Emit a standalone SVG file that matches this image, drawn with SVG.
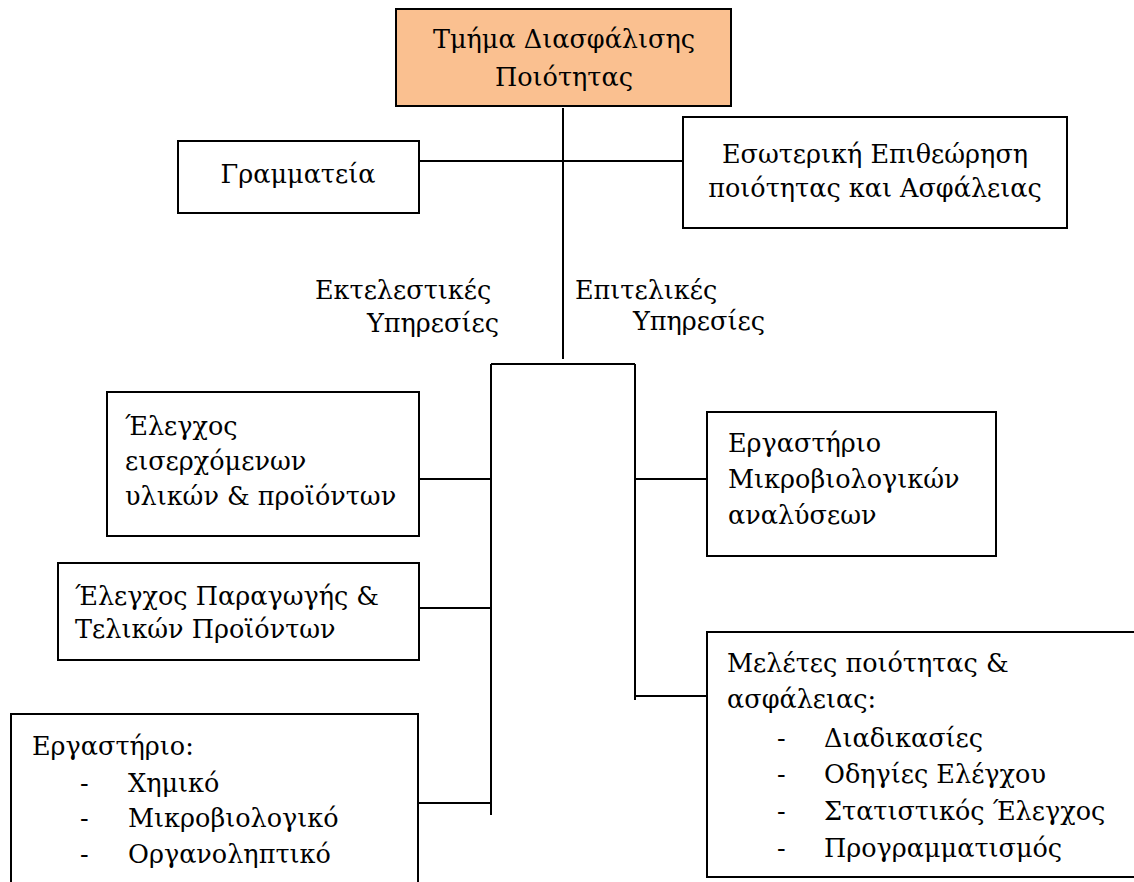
<svg xmlns="http://www.w3.org/2000/svg" width="1134" height="882" viewBox="0 0 1134 882">
<style>
.box{fill:#ffffff;stroke:#000000;stroke-width:2}
.top{fill:#FAC090;stroke:#000000;stroke-width:2}
.ln{stroke:#000000;stroke-width:2;fill:none}
text{font-family:'DejaVu Serif','Liberation Serif',serif;font-size:25.5px;fill:#000000}
.c{text-anchor:middle}
</style>
<rect width="1134" height="882" fill="#ffffff"/>
<g id="connectors">
<line class="ln" x1="563" y1="108" x2="563" y2="359"/>
<line class="ln" x1="419" y1="161" x2="683" y2="161"/>
<line class="ln" x1="491" y1="364" x2="635" y2="364"/>
<line class="ln" x1="491" y1="364" x2="491" y2="815"/>
<line class="ln" x1="635" y1="364" x2="635" y2="700"/>
<line class="ln" x1="419" y1="479" x2="491" y2="479"/>
<line class="ln" x1="419" y1="608" x2="491" y2="608"/>
<line class="ln" x1="418" y1="803" x2="491" y2="803"/>
<line class="ln" x1="635" y1="479" x2="707" y2="479"/>
<line class="ln" x1="635" y1="696" x2="707" y2="696"/>
</g>
<g id="n-top">
<rect class="top" x="396" y="9" width="335" height="97"/>
<text class="c" x="564" y="48">Τμήμα Διασφάλισης</text>
<text class="c" x="564" y="86">Ποιότητας</text>
</g>
<g id="n-grammateia">
<rect class="box" x="178" y="141" width="241" height="72"/>
<text class="c" x="298" y="183">Γραμματεία</text>
</g>
<g id="n-esoteriki">
<rect class="box" x="683" y="117" width="384" height="111"/>
<text class="c" x="875" y="163">Εσωτερική Επιθεώρηση</text>
<text class="c" x="875" y="197">ποιότητας και Ασφάλειας</text>
</g>
<g id="l-ektelestikes">
<text x="315" y="299">Εκτελεστικές</text>
<text x="367" y="332">Υπηρεσίες</text>
</g>
<g id="l-epitelikes">
<text x="575" y="299">Επιτελικές</text>
<text x="633" y="330">Υπηρεσίες</text>
</g>
<g id="n-eiserxomenon">
<rect class="box" x="107" y="392" width="312" height="144"/>
<text x="125" y="435">Έλεγχος</text>
<text x="125" y="470">εισερχόμενων</text>
<text x="125" y="505">υλικών &amp; προϊόντων</text>
</g>
<g id="n-paragogis">
<rect class="box" x="58" y="563" width="361" height="97"/>
<text x="75" y="605">Έλεγχος Παραγωγής &amp;</text>
<text x="75" y="638">Τελικών Προϊόντων</text>
</g>
<g id="n-ergastirio">
<path class="ln" d="M11,884 V714 H418 V884"/>
<text x="32" y="755">Εργαστήριο:</text>
<text x="80" y="792">-</text><text x="128" y="792">Χημικό</text>
<text x="80" y="827">-</text><text x="128" y="827">Μικροβιολογικό</text>
<text x="80" y="863">-</text><text x="128" y="863">Οργανοληπτικό</text>
</g>
<g id="n-mikrobiologikon">
<rect class="box" x="707" y="412" width="289" height="144"/>
<text x="728" y="452">Εργαστήριο</text>
<text x="728" y="488">Μικροβιολογικών</text>
<text x="728" y="524">αναλύσεων</text>
</g>
<g id="n-meletes">
<path class="ln" d="M1136,632 H707 V877 H1136"/>
<text x="727" y="672">Μελέτες ποιότητας &amp;</text>
<text x="727" y="708">ασφάλειας:</text>
<text x="777" y="747">-</text><text x="824" y="747">Διαδικασίες</text>
<text x="777" y="783">-</text><text x="824" y="783">Οδηγίες Ελέγχου</text>
<text x="777" y="820">-</text><text x="824" y="820">Στατιστικός Έλεγχος</text>
<text x="777" y="857">-</text><text x="824" y="857">Προγραμματισμός</text>
</g>
</svg>
